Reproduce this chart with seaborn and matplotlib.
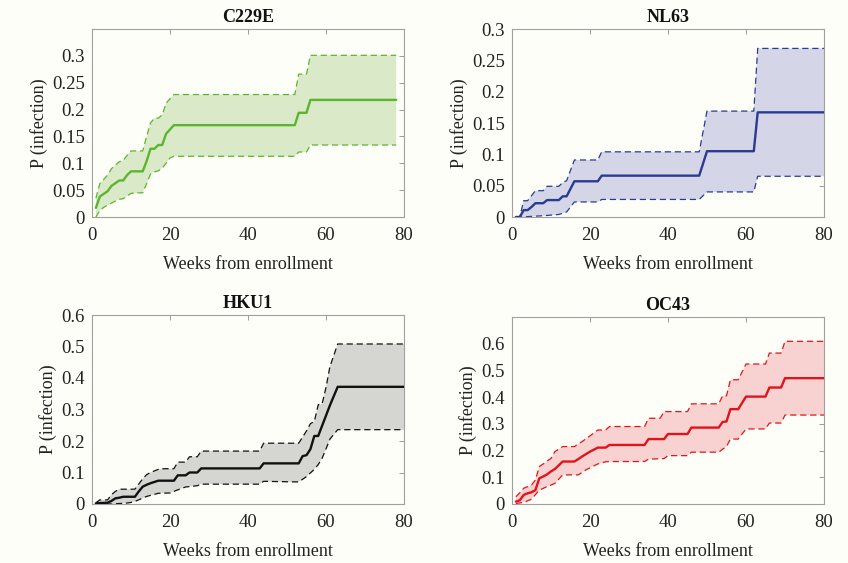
import numpy as np
import matplotlib
matplotlib.use('Agg')
import matplotlib.pyplot as plt
import seaborn as sns

sns.set_theme(style='white')
plt.rcParams['font.family'] = ['Liberation Serif', 'DejaVu Serif']

BG = '#FDFEF7'

# ---------------- data ----------------
# C229E
c229e_mean_w = [1, 2, 3, 4, 5, 6, 7, 8, 9, 10, 13, 14, 15, 16, 17, 18, 19, 20, 21, 52, 53, 55, 56, 78]
c229e_mean = [0.017, 0.038, 0.043, 0.048, 0.058, 0.063, 0.068, 0.068, 0.078, 0.085, 0.085, 0.104,
              0.127, 0.127, 0.134, 0.134, 0.155, 0.163, 0.171, 0.171, 0.194, 0.194, 0.218, 0.218]
c229e_up_w = [1, 2, 3, 4, 5, 7, 8, 9, 10, 13, 14, 15, 16, 17, 18, 19, 20, 21, 52, 53, 55, 56, 78]
c229e_up = [0.035, 0.062, 0.070, 0.078, 0.090, 0.103, 0.105, 0.115, 0.123, 0.123, 0.150, 0.175,
            0.184, 0.184, 0.190, 0.212, 0.220, 0.228, 0.228, 0.266, 0.266, 0.301, 0.301]
c229e_lo_w = [1, 2, 3, 5, 7, 8, 10, 12, 13, 14, 15, 16, 17, 18, 19, 20, 21, 52, 53, 55, 56, 78]
c229e_lo = [0.0, 0.012, 0.018, 0.026, 0.033, 0.034, 0.044, 0.045, 0.045, 0.062, 0.080, 0.084,
            0.086, 0.091, 0.100, 0.110, 0.113, 0.113, 0.121, 0.121, 0.134, 0.134]

# NL63
nl63_mean_w = [1, 2, 3, 4, 5, 6, 8, 9, 12, 13, 14, 16, 22, 23, 48, 50, 62, 63, 80]
nl63_mean = [0, 0, 0.011, 0.011, 0.016, 0.022, 0.022, 0.027, 0.027, 0.033, 0.033, 0.057, 0.057,
             0.066, 0.066, 0.105, 0.105, 0.167, 0.167]
nl63_up_w = [1, 2, 3, 4, 5, 6, 8, 9, 12, 13, 14, 16, 22, 23, 48, 50, 62, 63, 80]
nl63_up = [0, 0, 0.026, 0.026, 0.034, 0.042, 0.042, 0.049, 0.049, 0.055, 0.058, 0.091, 0.091,
           0.104, 0.104, 0.169, 0.169, 0.269, 0.269]
nl63_lo_w = [1, 2, 5, 8, 12, 13, 14, 16, 22, 23, 48, 50, 62, 63, 80]
nl63_lo = [0, 0, 0.001, 0.002, 0.004, 0.006, 0.008, 0.024, 0.024, 0.028, 0.028, 0.040, 0.040,
           0.065, 0.065]

# HKU1
hku1_mean_w = [1, 2, 4, 5, 6, 7, 8, 11, 12, 13, 14, 15, 17, 21, 22, 24, 25, 27, 28, 43, 44, 53,
               54, 55, 56, 57, 58, 61, 63, 80]
hku1_mean = [0.002, 0.003, 0.004, 0.010, 0.018, 0.020, 0.023, 0.023, 0.040, 0.055, 0.061, 0.066,
             0.074, 0.074, 0.091, 0.091, 0.100, 0.100, 0.113, 0.113, 0.129, 0.129, 0.152, 0.155,
             0.174, 0.216, 0.216, 0.313, 0.372, 0.372]
hku1_up_w = [1, 2, 4, 5, 6, 7, 11, 13, 14, 15, 17, 18, 21, 22, 24, 25, 27, 28, 43, 44, 53, 55,
             56, 57, 58, 59, 60, 61, 63, 80]
hku1_up = [0.004, 0.013, 0.013, 0.030, 0.040, 0.047, 0.047, 0.080, 0.093, 0.100, 0.110, 0.112,
           0.112, 0.133, 0.133, 0.150, 0.150, 0.168, 0.168, 0.193, 0.193, 0.232, 0.255, 0.262,
           0.315, 0.318, 0.370, 0.436, 0.508, 0.508]
hku1_lo_w = [1, 5, 9, 10, 11, 14, 17, 20, 22, 24, 27, 28, 43, 44, 53, 55, 57, 58, 59, 60, 61,
             63, 80]
hku1_lo = [0, 0, 0.003, 0.005, 0.008, 0.024, 0.034, 0.035, 0.045, 0.054, 0.058, 0.063, 0.063,
           0.072, 0.070, 0.087, 0.110, 0.125, 0.145, 0.175, 0.206, 0.236, 0.236]

# OC43
oc43_mean_w = [1, 2, 3, 4, 5, 6, 7, 8, 9, 10, 11, 12, 13, 16, 17, 18, 19, 20, 22, 24, 25, 34,
               35, 39, 40, 45, 46, 53, 54, 55, 56, 58, 60, 65, 66, 69, 70, 80]
oc43_mean = [0.009, 0.014, 0.034, 0.040, 0.044, 0.052, 0.096, 0.103, 0.111, 0.122, 0.131, 0.145,
             0.159, 0.159, 0.168, 0.178, 0.187, 0.196, 0.211, 0.211, 0.221, 0.221, 0.243, 0.243,
             0.262, 0.262, 0.286, 0.286, 0.307, 0.309, 0.355, 0.355, 0.402, 0.402, 0.436, 0.436,
             0.471, 0.471]
oc43_up_w = [1, 2, 3, 4, 5, 6, 7, 8, 10, 11, 13, 16, 17, 18, 20, 22, 24, 25, 34, 35, 38, 39, 45,
             46, 53, 54, 55, 56, 58, 60, 65, 66, 69, 70, 80]
oc43_up = [0.027, 0.042, 0.059, 0.065, 0.071, 0.090, 0.140, 0.150, 0.171, 0.196, 0.215, 0.215,
           0.225, 0.234, 0.255, 0.277, 0.277, 0.290, 0.290, 0.321, 0.321, 0.346, 0.346, 0.375,
           0.375, 0.405, 0.405, 0.465, 0.465, 0.524, 0.524, 0.565, 0.565, 0.609, 0.609]
oc43_lo_w = [1, 3, 5, 7, 9, 11, 13, 17, 19, 22, 24, 25, 34, 35, 39, 40, 45, 46, 53, 54, 55, 56,
             58, 60, 65, 66, 69, 70, 80]
oc43_lo = [0.002, 0.006, 0.018, 0.052, 0.065, 0.077, 0.109, 0.109, 0.128, 0.150, 0.158, 0.159,
           0.159, 0.168, 0.170, 0.181, 0.181, 0.194, 0.194, 0.205, 0.215, 0.243, 0.243, 0.281,
           0.281, 0.303, 0.303, 0.333, 0.333]

panels = [
    ('C229E', c229e_mean_w, c229e_mean, c229e_up_w, c229e_up, c229e_lo_w, c229e_lo,
     '#5DB52F', '#DAE9C8', 0.35, [0, 0.05, 0.1, 0.15, 0.2, 0.25, 0.3], ['0', '0.05', '0.1', '0.15', '0.2', '0.25', '0.3']),
    ('NL63', nl63_mean_w, nl63_mean, nl63_up_w, nl63_up, nl63_lo_w, nl63_lo,
     '#2B3A93', '#D4D5E6', 0.30, [0, 0.05, 0.1, 0.15, 0.2, 0.25, 0.3], ['0', '0.05', '0.1', '0.15', '0.2', '0.25', '0.3']),
    ('HKU1', hku1_mean_w, hku1_mean, hku1_up_w, hku1_up, hku1_lo_w, hku1_lo,
     '#111111', '#D5D6D1', 0.60, [0, 0.1, 0.2, 0.3, 0.4, 0.5, 0.6], ['0', '0.1', '0.2', '0.3', '0.4', '0.5', '0.6']),
    ('OC43', oc43_mean_w, oc43_mean, oc43_up_w, oc43_up, oc43_lo_w, oc43_lo,
     '#E0141C', '#F8D2D1', 0.70, [0, 0.1, 0.2, 0.3, 0.4, 0.5, 0.6], ['0', '0.1', '0.2', '0.3', '0.4', '0.5', '0.6']),
]

# axes boxes in pixels: left, top, right, bottom
boxes = [(92, 29, 404, 217), (512, 29, 824, 217), (92, 315, 404, 504), (512, 317, 824, 504)]
W, H = 848, 563

fig = plt.figure(figsize=(8.48, 5.63), dpi=100, facecolor=BG)
for (name, mw, mv, uw, uv, lw, lv, col, fillc, ytop, yt, ytl), (l, t, r, b) in zip(panels, boxes):
    ax = fig.add_axes([l / W, 1 - b / H, (r - l) / W, (b - t) / H])
    ax.set_facecolor(BG)
    # shaded confidence band
    ax.fill(np.r_[uw, lw[::-1]], np.r_[uv, lv[::-1]], color=fillc, lw=0, zorder=1)
    sns.lineplot(x=uw, y=uv, ax=ax, color=col, lw=0.9, linestyle=(0, (5, 3)), zorder=2)
    sns.lineplot(x=lw, y=lv, ax=ax, color=col, lw=0.9, linestyle=(0, (5, 3)), zorder=2)
    sns.lineplot(x=mw, y=mv, ax=ax, color=col, lw=1.7, zorder=3)

    ax.set_xlim(0, 80)
    ax.set_ylim(0, ytop)
    ax.set_xticks([0, 20, 40, 60, 80])
    ax.set_yticks(yt)
    ax.set_yticklabels(ytl)
    ax.tick_params(direction='in', top=True, right=True, length=3.5, width=0.6,
                   color='#8C8C8C', labelsize=13.5, labelcolor='#222222', pad=5)
    ax.tick_params(axis='x', pad=7)
    for sp in ax.spines.values():
        sp.set_color('#A0A0A0')
        sp.set_linewidth(0.8)
    ax.set_title(name, fontsize=13, fontweight='bold', pad=5, color='#111111')
    ax.set_xlabel('Weeks from enrollment', fontsize=13, color='#222222', labelpad=9)
    ax.set_ylabel('P (infection)', fontsize=13, color='#222222', labelpad=3)

fig.savefig('out.png', dpi=100, facecolor=BG)
